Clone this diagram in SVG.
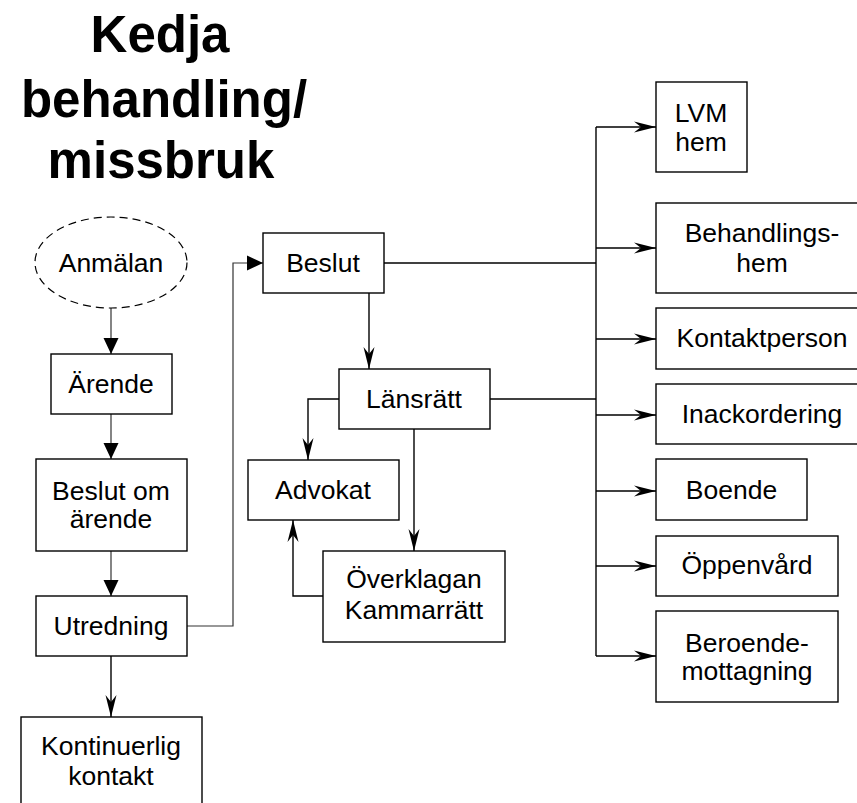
<svg xmlns="http://www.w3.org/2000/svg" width="857" height="803" viewBox="0 0 857 803">
  <style>
    .box { fill: #fff; stroke: #000; stroke-width: 1.4; }
    .oval { fill: #fff; stroke: #000; stroke-width: 1.2; stroke-dasharray: 8 5; }
    .lbl { font-family: "Liberation Sans", Arial, sans-serif; font-size: 26.5px; fill: #000; text-anchor: middle; }
    .title { font-family: "Liberation Sans", Arial, sans-serif; font-size: 51px; font-weight: bold; fill: #000; text-anchor: middle; }
    .wire { fill: none; stroke: #000; stroke-width: 1.4; }
    .thin { fill: none; stroke: #333; stroke-width: 1.2; }
  </style>
  <defs>
    <!-- narrow notched arrowhead -->
    <marker id="stealth" viewBox="-24 -7 26 14" markerWidth="26" markerHeight="14" refX="0" refY="0" orient="auto" markerUnits="userSpaceOnUse">
      <path d="M0,0 L-22,-5.5 L-15,0 L-22,5.5 Z" fill="#000"/>
    </marker>
    <!-- solid triangular arrowhead -->
    <marker id="tri" viewBox="-18 -9 20 18" markerWidth="20" markerHeight="18" refX="0" refY="0" orient="auto" markerUnits="userSpaceOnUse">
      <path d="M0,0 L-16,-7.5 L-16,7.5 Z" fill="#000"/>
    </marker>
  </defs>

  <rect width="857" height="803" fill="#fff"/>

  <g id="title">
    <text class="title" x="160" y="52">Kedja</text>
    <text class="title" x="164" y="117">behandling/</text>
    <text class="title" x="161" y="178">missbruk</text>
  </g>

  <g id="connectors">
    <path class="thin" d="M111,308 L111,354" marker-end="url(#tri)"/>
    <path class="thin" d="M111,414 L111,459" marker-end="url(#tri)"/>
    <path class="thin" d="M111,551 L111,596" marker-end="url(#tri)"/>
    <path class="wire" d="M111,656 L111,717" marker-end="url(#stealth)"/>
    <path class="thin" d="M187,626 L233,626 L233,263 L263,263" marker-end="url(#tri)"/>
    <path class="wire" d="M369,293 L369,369" marker-end="url(#stealth)"/>
    <path class="wire" d="M339,399 L308,399 L308,460" marker-end="url(#stealth)"/>
    <path class="wire" d="M414,429 L414,551" marker-end="url(#stealth)"/>
    <path class="wire" d="M323,596 L293,596 L293,520" marker-end="url(#stealth)"/>
    <path class="wire" d="M384,263 L596,263"/>
    <path class="wire" d="M490,399 L596,399"/>
    <path class="wire" d="M596,127 L596,656"/>
    <path class="wire" d="M596,127 L656,127" marker-end="url(#stealth)"/>
    <path class="wire" d="M596,248 L656,248" marker-end="url(#stealth)"/>
    <path class="wire" d="M596,339 L656,339" marker-end="url(#stealth)"/>
    <path class="wire" d="M596,415 L656,415" marker-end="url(#stealth)"/>
    <path class="wire" d="M596,491 L656,491" marker-end="url(#stealth)"/>
    <path class="wire" d="M596,566 L656,566" marker-end="url(#stealth)"/>
    <path class="wire" d="M596,656 L656,656" marker-end="url(#stealth)"/>
  </g>

  <g id="anmalan">
    <ellipse class="oval" cx="111" cy="262.5" rx="76" ry="45.5"/>
    <text class="lbl" x="111" y="272">Anmälan</text>
  </g>
  <g id="arende">
    <rect class="box" x="51" y="354" width="121" height="60"/>
    <text class="lbl" x="111" y="393">Ärende</text>
  </g>
  <g id="beslut-om-arende">
    <rect class="box" x="36" y="459" width="151" height="92"/>
    <text class="lbl" x="111" y="500">Beslut om</text>
    <text class="lbl" x="111" y="528">ärende</text>
  </g>
  <g id="utredning">
    <rect class="box" x="36" y="596" width="151" height="60"/>
    <text class="lbl" x="111" y="635">Utredning</text>
  </g>
  <g id="kontinuerlig-kontakt">
    <rect class="box" x="21" y="717" width="181" height="100"/>
    <text class="lbl" x="111" y="755">Kontinuerlig</text>
    <text class="lbl" x="111" y="785">kontakt</text>
  </g>
  <g id="beslut">
    <rect class="box" x="263" y="233" width="121" height="60"/>
    <text class="lbl" x="323" y="272">Beslut</text>
  </g>
  <g id="lansratt">
    <rect class="box" x="339" y="369" width="151" height="60"/>
    <text class="lbl" x="414" y="408">Länsrätt</text>
  </g>
  <g id="advokat">
    <rect class="box" x="248" y="460" width="151" height="60"/>
    <text class="lbl" x="323" y="499">Advokat</text>
  </g>
  <g id="overklagan">
    <rect class="box" x="323" y="551" width="182" height="91"/>
    <text class="lbl" x="414" y="588">Överklagan</text>
    <text class="lbl" x="414" y="619">Kammarrätt</text>
  </g>
  <g id="lvm-hem">
    <rect class="box" x="656" y="82" width="91" height="90"/>
    <text class="lbl" x="701" y="122">LVM</text>
    <text class="lbl" x="701" y="151">hem</text>
  </g>
  <g id="behandlingshem">
    <rect class="box" x="656" y="203" width="212" height="90"/>
    <text class="lbl" x="762" y="242">Behandlings-</text>
    <text class="lbl" x="762" y="272">hem</text>
  </g>
  <g id="kontaktperson">
    <rect class="box" x="656" y="308" width="212" height="61"/>
    <text class="lbl" x="762" y="347">Kontaktperson</text>
  </g>
  <g id="inackordering">
    <rect class="box" x="656" y="384" width="212" height="60"/>
    <text class="lbl" x="762" y="423">Inackordering</text>
  </g>
  <g id="boende">
    <rect class="box" x="656" y="459" width="151" height="61"/>
    <text class="lbl" x="731.5" y="499">Boende</text>
  </g>
  <g id="oppenvard">
    <rect class="box" x="656" y="536" width="182" height="60"/>
    <text class="lbl" x="747" y="574">Öppenvård</text>
  </g>
  <g id="beroendemottagning">
    <rect class="box" x="656" y="611" width="182" height="91"/>
    <text class="lbl" x="747" y="652">Beroende-</text>
    <text class="lbl" x="747" y="680">mottagning</text>
  </g>
</svg>
